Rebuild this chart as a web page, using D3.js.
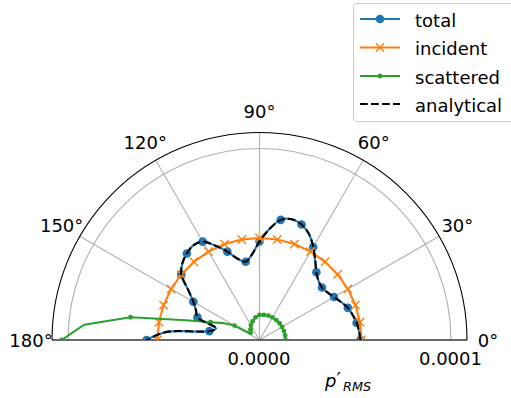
<!DOCTYPE html>
<html lang="en">
<head>
<meta charset="UTF-8" />
<title>Polar p'RMS</title>
<script src="https://cdn.jsdelivr.net/npm/d3@7"></script>
<style>
  body { margin: 0; background: #fff; }
  svg { display: block; font-family: "DejaVu Sans", sans-serif; }
</style>
</head>
<body>
<div id="chart"></div>
<script>
// angles in degrees
const angles5 = [0, 5, 10, 15, 20, 25, 30, 35, 40, 45, 50, 55, 60, 65, 70, 75, 80, 85, 90,
                 95, 100, 105, 110, 115, 120, 125, 130, 135, 140, 145, 150, 155, 160, 165, 170, 175, 180];
const angles10 = [0, 10, 20, 30, 40, 50, 60, 70, 80, 90, 100, 110, 120, 130, 140, 150, 160, 170, 180];

// series values (p'RMS)
const totalVals = [5.27e-5, 5.22e-5, 5.15e-5, 5.04e-5, 4.91e-5, 4.70e-5, 4.49e-5, 4.33e-5, 4.26e-5, 4.36e-5,
                   4.62e-5, 5.07e-5, 5.61e-5, 6.11e-5, 6.42e-5, 6.53e-5, 6.37e-5, 5.80e-5, 5.14e-5,
                   4.49e-5, 4.15e-5, 4.39e-5, 4.91e-5, 5.43e-5, 5.93e-5, 6.03e-5, 5.90e-5, 5.69e-5, 5.33e-5,
                   4.54e-5, 3.99e-5, 3.66e-5, 3.45e-5, 2.35e-5, 2.66e-5, 4.86e-5, 5.90e-5];
const incidentVals = [5.33e-5, 5.33e-5, 5.33e-5, 5.33e-5, 5.33e-5, 5.33e-5, 5.33e-5, 5.33e-5, 5.33e-5, 5.33e-5,
                      5.33e-5, 5.33e-5, 5.33e-5, 5.33e-5, 5.33e-5, 5.33e-5, 5.33e-5, 5.33e-5, 5.33e-5];
const scatteredVals = [1.36e-5, 1.36e-5, 1.36e-5, 1.36e-5, 1.36e-5, 1.36e-5, 1.36e-5, 1.36e-5, 1.36e-5, 1.36e-5,
                       1.36e-5, 1.36e-5, 1.36e-5, 1.36e-5, 1.36e-5, 1.33e-5, 1.33e-5, 1.31e-5, 1.31e-5,
                       1.25e-5, 1.20e-5, 1.12e-5, 1.04e-5, 0.97e-5, 0.89e-5, 0.81e-5, 0.73e-5, 0.65e-5, 0.60e-5,
                       0.57e-5, 1.51e-5, 2.09e-5, 2.72e-5, 3.97e-5, 6.84e-5, 9.19e-5, 10.34e-5];
const analyticalVals = [5.27e-5, 5.22e-5, 5.15e-5, 5.04e-5, 4.91e-5, 4.70e-5, 4.49e-5, 4.33e-5, 4.26e-5, 4.36e-5,
                        4.62e-5, 5.07e-5, 5.61e-5, 6.11e-5, 6.42e-5, 6.53e-5, 6.37e-5, 5.80e-5, 5.14e-5,
                        4.49e-5, 4.15e-5, 4.39e-5, 4.91e-5, 5.43e-5, 5.93e-5, 6.03e-5, 5.90e-5, 5.69e-5, 5.33e-5,
                        4.54e-5, 3.99e-5, 3.66e-5, 3.45e-5, 2.35e-5, 2.66e-5, 4.86e-5, 5.90e-5];

const thetaTicks = [0, 30, 60, 90, 120, 150, 180];
const rTicks = [0, 0.0001];
const rTickLabels = ["0.0000", "0.0001"];
const rMax = 1.0836e-4;

const width = 511, height = 398;
const cx = 259.5, cy = 340, R = 207.5;
const C = { total: "#1f77b4", incident: "#ff7f0e", scattered: "#2ca02c", analytical: "#000000" };

const svg = d3.select("#chart").append("svg")
  .attr("width", width).attr("height", height);

const r = d3.scaleLinear().domain([0, rMax]).range([0, R]);
// d3 radial angle (clockwise from 12 o'clock) from polar degrees
const ang = d3.scaleLinear().domain([0, 180]).range([Math.PI / 2, -Math.PI / 2]);
const px = (deg, v) => [Math.sin(ang(deg)) * r(v), -Math.cos(ang(deg)) * r(v)];

const g = svg.append("g").attr("transform", `translate(${cx},${cy})`);

svg.append("defs").append("clipPath").attr("id", "half")
  .append("path")
  .attr("transform", `translate(${cx},${cy})`)
  .attr("d", d3.arc().innerRadius(0).outerRadius(R).startAngle(-Math.PI / 2).endAngle(Math.PI / 2)());

// grid
g.selectAll(".tgrid").data(thetaTicks).join("line")
  .attr("x1", 0).attr("y1", 0)
  .attr("x2", d => px(d, rMax)[0]).attr("y2", d => px(d, rMax)[1])
  .attr("stroke", "#b0b0b0").attr("stroke-width", 1.1);

const rgrid = d3.path();
rgrid.arc(0, 0, r(rTicks[1]), Math.PI, 0);
g.append("path").attr("d", rgrid.toString())
  .attr("fill", "none").attr("stroke", "#b0b0b0").attr("stroke-width", 1.1);

// series, clipped to the half disk
const lineR = d3.lineRadial().angle(d => ang(d[0])).radius(d => r(d[1]));
const layer = svg.append("g").attr("clip-path", "url(#half)")
  .append("g").attr("transform", `translate(${cx},${cy})`);

const totalPts = angles5.map((a, i) => [a, totalVals[i]]);
const incPts = angles10.map((a, i) => [a, incidentVals[i]]);
const scatPts = angles5.map((a, i) => [a, scatteredVals[i]]);
const anaPts = angles5.map((a, i) => [a, analyticalVals[i]]);

// total
layer.append("path").attr("d", lineR.curve(d3.curveCatmullRom)(totalPts))
  .attr("fill", "none").attr("stroke", C.total).attr("stroke-width", 2.1);
layer.selectAll(".tm").data(totalPts.filter(d => d[0] % 10 === 0)).join("circle")
  .attr("cx", d => px(d[0], d[1])[0]).attr("cy", d => px(d[0], d[1])[1])
  .attr("r", 4.3).attr("fill", C.total);

// incident
layer.append("path").attr("d", lineR.curve(d3.curveLinear)(incPts))
  .attr("fill", "none").attr("stroke", C.incident).attr("stroke-width", 2.1);
const xMark = s => `M${-s},${-s}L${s},${s}M${-s},${s}L${s},${-s}`;
layer.selectAll(".im").data(incPts).join("path")
  .attr("transform", d => `translate(${px(d[0], d[1])})`)
  .attr("d", xMark(4.2)).attr("stroke", C.incident).attr("stroke-width", 1.4).attr("fill", "none");

// scattered
layer.append("path").attr("d", lineR.curve(d3.curveLinear)(scatPts))
  .attr("fill", "none").attr("stroke", C.scattered).attr("stroke-width", 2.1);
layer.selectAll(".sm").data(scatPts.filter(d => d[0] % 10 === 0)).join("circle")
  .attr("cx", d => px(d[0], d[1])[0]).attr("cy", d => px(d[0], d[1])[1])
  .attr("r", 2.4).attr("fill", C.scattered);

// analytical
layer.append("path").attr("d", lineR.curve(d3.curveCatmullRom)(anaPts))
  .attr("fill", "none").attr("stroke", C.analytical).attr("stroke-width", 2.1)
  .attr("stroke-dasharray", "7.7,3.3");

// spines
const outer = d3.path();
outer.arc(0, 0, R, Math.PI, 0);
g.append("path").attr("d", outer.toString()).attr("fill", "none").attr("stroke", "#000").attr("stroke-width", 1.1);
g.append("line").attr("x1", -R).attr("x2", R).attr("y1", 0).attr("y2", 0)
  .attr("stroke", "#000").attr("stroke-width", 1.1);

// angle labels
g.selectAll(".tl").data(thetaTicks).join("text")
  .attr("x", d => Math.sin(ang(d)) * (R + 21))
  .attr("y", d => -Math.cos(ang(d)) * (R + 21) + 6.5)
  .attr("text-anchor", "middle").attr("font-size", 18).attr("fill", "#000")
  .text(d => d + "°");

// radial labels
g.selectAll(".rl").data(rTicks).join("text")
  .attr("x", d => r(d) - 0.5).attr("y", 24.5)
  .attr("text-anchor", "middle").attr("font-size", 18).attr("fill", "#000")
  .text((d, i) => rTickLabels[i]);

// x label p'_RMS
const xl = svg.append("text").attr("y", 386.5).attr("font-size", 18).attr("fill", "#000");
xl.append("tspan").attr("x", 325).attr("font-style", "italic").text("p");
xl.append("tspan").attr("x", 336.5).attr("dy", -1).attr("font-size", 20).text("′");
xl.append("tspan").attr("x", 343).attr("dy", 5.5).attr("font-size", 12.8).attr("font-style", "italic").text("RMS");

// legend
const leg = svg.append("g");
leg.append("rect").attr("x", 353.5).attr("y", 3.5).attr("width", 170).attr("height", 118)
  .attr("rx", 3).attr("fill", "#fff").attr("fill-opacity", 0.8).attr("stroke", "#cccccc").attr("stroke-width", 1);
const legItems = [
  { name: "total", key: "total", y: 19 },
  { name: "incident", key: "incident", y: 47.5 },
  { name: "scattered", key: "scattered", y: 76 },
  { name: "analytical", key: "analytical", y: 104 }
];
legItems.forEach(it => {
  const ln = leg.append("line").attr("x1", 360).attr("x2", 400).attr("y1", it.y).attr("y2", it.y)
    .attr("stroke", C[it.key]).attr("stroke-width", 2.1);
  if (it.key === "analytical") ln.attr("stroke-dasharray", "7.7,3.3");
  if (it.key === "total") leg.append("circle").attr("cx", 380).attr("cy", it.y).attr("r", 4.3).attr("fill", C.total);
  if (it.key === "incident") leg.append("path").attr("transform", `translate(380,${it.y})`)
    .attr("d", xMark(4.2)).attr("stroke", C.incident).attr("stroke-width", 1.4);
  if (it.key === "scattered") leg.append("circle").attr("cx", 380).attr("cy", it.y).attr("r", 2.4).attr("fill", C.scattered);
  leg.append("text").attr("x", 415).attr("y", it.y + 7.5).attr("font-size", 18).attr("fill", "#000").text(it.name);
});
</script>
</body>
</html>
